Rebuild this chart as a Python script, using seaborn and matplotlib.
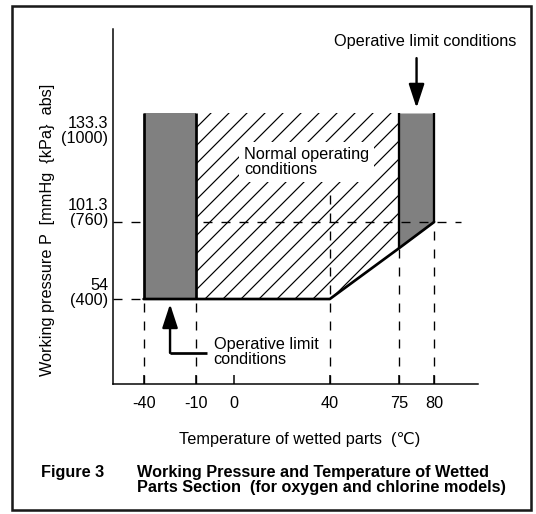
import numpy as np
import pandas as pd
import seaborn as sns
import matplotlib
matplotlib.use("Agg")
import matplotlib.pyplot as plt
from matplotlib.patches import Rectangle
from matplotlib.transforms import ScaledTranslation

# ---------------- data ----------------
temp_ticks = [-40, -10, 0, 40, 75, 80]
temp_tick_labels = ["-40", "-10", "0", "40", "75", "80"]
pressure_levels = [54, 101.3, 133.3]
pressure_tick_labels = ["54\n(400)", "101.3\n(760)", "133.3\n(1000)"]

p_max = 133.3
# normal operating region (hatched)
normal_T = [-10, 40, 75]
normal_P_low = [54, 54, 85.2]
# left operative-limit region
left_T = [-40, -10]
left_P_low = [54, 54]
# right operative-limit region
right_T = [75, 80]
right_P_low = [85.2, 101.3]
# lower boundary line
bound_T = [-40, 40, 75, 80]
bound_P = [54, 54, 85.2, 101.3]

# dashed guide lines
hguide_P = [54, 101.3]
hguide_T_end = [-40, 83.9]
vguide_T = [-40, -10, 40, 75, 80]
vguide_P_top = [54, 54, 110.7, 85.2, 101.3]

# ---------------- schematic (non-linear) axis layout ----------------
X_POS = [0.0843, 0.2273, 0.3327, 0.5942, 0.7837, 0.8798]
Y_POS = [0.2394, 0.4563, 0.7634]


def make_pw(xs, ys):
    xs = np.asarray(xs, float)
    ys = np.asarray(ys, float)
    s0 = (ys[1] - ys[0]) / (xs[1] - xs[0])
    s1 = (ys[-1] - ys[-2]) / (xs[-1] - xs[-2])

    def f(v):
        v = np.asarray(v, float)
        out = np.interp(v, xs, ys)
        out = np.where(v < xs[0], ys[0] + (v - xs[0]) * s0, out)
        out = np.where(v > xs[-1], ys[-1] + (v - xs[-1]) * s1, out)
        return out
    return f


fx, fxi = make_pw(temp_ticks, X_POS), make_pw(X_POS, temp_ticks)
fy, fyi = make_pw(pressure_levels, Y_POS), make_pw(Y_POS, pressure_levels)

sns.set_theme(style="white")
FONT = ["Liberation Sans", "DejaVu Sans"]
plt.rcParams["font.family"] = FONT
plt.rcParams["hatch.linewidth"] = 0.8
plt.rcParams["lines.scale_dashes"] = False

DPI = 108
FS = 10.8
fig = plt.figure(figsize=(536 / DPI, 514 / DPI), dpi=DPI)
fig.patch.set_facecolor("white")
ax = fig.add_axes([112.8 / 536, 1 - 384 / 514, 365.2 / 536, 355 / 514])
ax.set_facecolor("white")

ax.set_xscale("function", functions=(fx, fxi))
ax.set_yscale("function", functions=(fy, fyi))
xlim = (float(fxi(0.0)), float(fxi(1.0)))
ylim = (float(fyi(0.0)), float(fyi(1.0)))
ax.set_xlim(*xlim)
ax.set_ylim(*ylim)

GRAY = "#808080"
LW = 1.8

# regions
ax.fill_between(normal_T, normal_P_low, p_max, facecolor="white",
                edgecolor="black", hatch="//", linewidth=0, zorder=1)
ax.fill_between(right_T, right_P_low, p_max, facecolor=GRAY, linewidth=0, zorder=1.5)
ax.fill_between(left_T, left_P_low, p_max, facecolor=GRAY, linewidth=0, zorder=3)

# dashed guides
dash = (0, (6, 6))
for p, tend in zip(hguide_P, hguide_T_end):
    ax.plot([xlim[0], tend], [p, p], color="black", lw=0.9, ls=dash, zorder=2)
for t, ptop in zip(vguide_T, vguide_P_top):
    ax.plot([t, t], [ylim[0], ptop], color="black", lw=0.9, ls=dash, zorder=2)

# region edges
for t in left_T:
    ax.plot([t, t], [54, p_max], color="black", lw=LW, zorder=4,
            solid_capstyle="butt")
for t, pl in zip(right_T, right_P_low):
    ax.plot([t, t], [pl, p_max], color="black", lw=LW * 0.85, zorder=4,
            solid_capstyle="butt")
bdf = pd.DataFrame({"T": bound_T, "P": bound_P})
sns.lineplot(data=bdf, x="T", y="P", ax=ax, color="black", lw=LW,
             estimator=None, sort=False, zorder=4)
ax.set_xlabel("")
ax.set_ylabel("")

# texts in plot
ax.text(4.1, 118.9, "Normal operating\nconditions", ha="left", va="center",
        fontsize=FS, color="black", linespacing=1.0, zorder=5,
        bbox=dict(boxstyle="square,pad=0.3", fc="white", ec="none"))

aprops = dict(arrowstyle="-|>,head_length=0.67,head_width=0.22",
              mutation_scale=20, lw=1.6, color="black", shrinkA=0, shrinkB=0)
ax.text(78.8, 154.2, "Operative limit conditions", ha="center", va="center",
        fontsize=FS, color="black")
ax.annotate("", xy=(77.5, 134.8), xytext=(77.5, 149.4), arrowprops=aprops)

ax.plot([-7.2, -24.8], [20.9, 20.9], color="black", lw=LW, zorder=4,
        solid_capstyle="butt")
ax.annotate("", xy=(-24.8, 50.9), xytext=(-24.8, 20.9), arrowprops=aprops)
ax.text(-5.35, 21.5, "Operative limit\nconditions", ha="left", va="center",
        fontsize=FS, color="black", linespacing=0.95)

# axes styling
for s in ["top", "right"]:
    ax.spines[s].set_visible(False)
for s in ["left", "bottom"]:
    ax.spines[s].set_color("black")
    ax.spines[s].set_linewidth(1.0)

ax.set_xticks(temp_ticks, labels=temp_tick_labels)
ax.set_yticks(pressure_levels, labels=pressure_tick_labels)
ax.xaxis.set_minor_locator(matplotlib.ticker.NullLocator())
ax.yaxis.set_minor_locator(matplotlib.ticker.NullLocator())
ax.tick_params(axis="x", direction="in", length=6, width=1.0, pad=8,
               labelsize=FS, colors="black", bottom=True)
ax.tick_params(axis="y", length=0, pad=3, labelsize=FS, colors="black")

ylab_offsets_px = [6, 9, -18]
for lab, dy in zip(ax.get_yticklabels(), ylab_offsets_px):
    lab.set_va("center")
    lab.set_linespacing(1.0)
    lab.set_transform(lab.get_transform() +
                      ScaledTranslation(0, dy / DPI, fig.dpi_scale_trans))

ax.set_xlabel("Temperature of wetted parts  (\u2103)", fontsize=FS, color="black")
ax.xaxis.set_label_coords(0.5126, -0.1352)
ax.set_ylabel("Working pressure P  [mmHg  {kPa}  abs]", fontsize=FS, color="black")
ax.yaxis.set_label_coords(-0.158, 0.434)

# caption
fig.text(41 / 536, 1 - 465 / 514, "Figure 3", fontsize=FS, weight="bold",
         va="top", ha="left", color="black")
fig.text(137 / 536, 1 - 465 / 514,
         "Working Pressure and Temperature of Wetted\n"
         "Parts Section  (for oxygen and chlorine models)",
         fontsize=FS, weight="bold", va="top", ha="left", color="black",
         linespacing=1.0)

# outer frame
fig.patches.append(Rectangle((12 / 536, 1 - 510 / 514), (531 - 12) / 536,
                             (510 - 6) / 514, transform=fig.transFigure,
                             fill=False, lw=1.7, ec="#1a1a1a"))

fig.savefig("out.png", dpi=DPI, facecolor="white")
